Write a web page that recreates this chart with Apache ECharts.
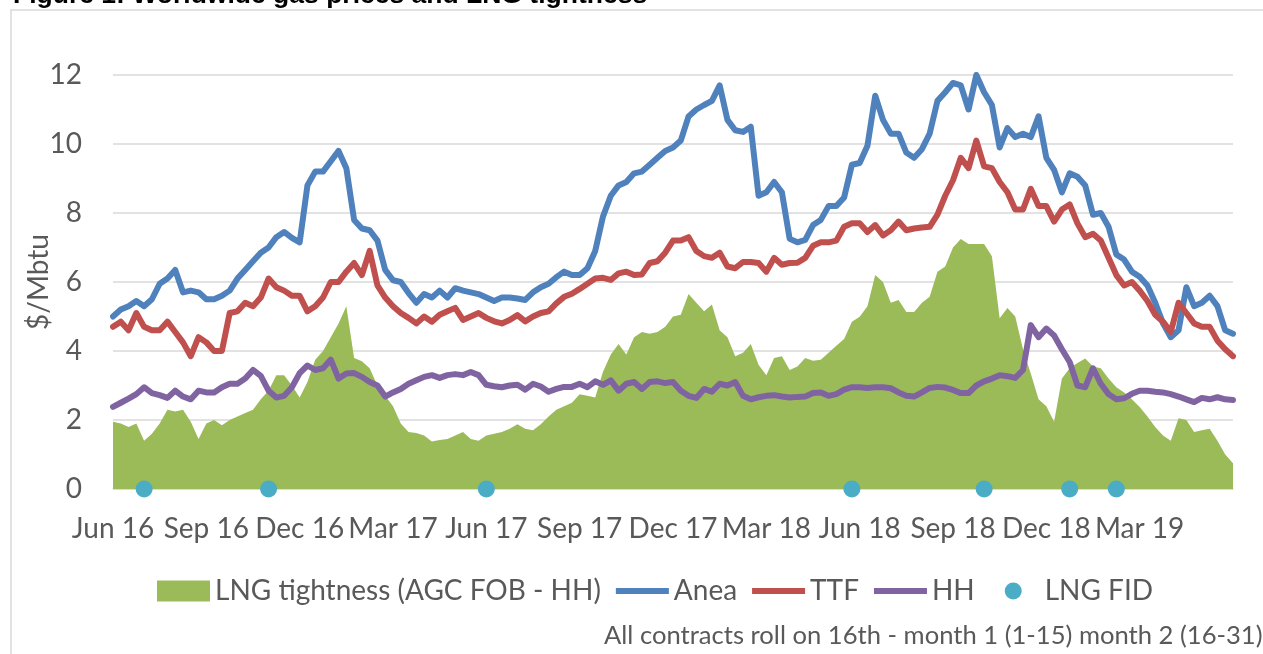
<!DOCTYPE html>
<html>
<head>
<meta charset="utf-8">
<script src="https://cdn.jsdelivr.net/npm/echarts@6/dist/echarts.min.js"></script>
<style>
    html, body { margin: 0; padding: 0; background: #fff; }
    #chart { width: 1263px; height: 654px; }
</style>
</head>
<body>
<div id="chart"></div>
<script>
// months from Jun 16 to Jun 19, sampled 4 times per month
const months = ['Jun 16', 'Jul 16', 'Aug 16', 'Sep 16', 'Oct 16', 'Nov 16', 'Dec 16', 'Jan 17', 'Feb 17', 'Mar 17',
    'Apr 17', 'May 17', 'Jun 17', 'Jul 17', 'Aug 17', 'Sep 17', 'Oct 17', 'Nov 17', 'Dec 17', 'Jan 18', 'Feb 18',
    'Mar 18', 'Apr 18', 'May 18', 'Jun 18', 'Jul 18', 'Aug 18', 'Sep 18', 'Oct 18', 'Nov 18', 'Dec 18', 'Jan 19',
    'Feb 19', 'Mar 19', 'Apr 19', 'May 19', 'Jun 19'];

const categories = [];
months.forEach((m, i) => {
    const n = i === months.length - 1 ? 1 : 4;
    for (let q = 0; q < n; q++) categories.push(m + '|' + q);
});

// LNG tightness (AGC FOB - HH), $/Mbtu
const tightness = [
    1.95, 1.9, 1.8, 1.9, 1.4, 1.6, 1.9, 2.3, 2.25, 2.3, 1.95, 1.45,
    1.9, 2.0, 1.85, 2.0, 2.1, 2.2, 2.3, 2.6, 2.85, 3.3, 3.3, 3.0,
    2.65, 3.1, 3.75, 4.0, 4.4, 4.8, 5.3, 3.8, 3.7, 3.5, 3.0, 2.7,
    2.4, 1.9, 1.65, 1.62, 1.55, 1.38, 1.42, 1.45, 1.55, 1.65, 1.45, 1.4,
    1.55, 1.6, 1.65, 1.75, 1.88, 1.75, 1.7, 1.88, 2.1, 2.3, 2.4, 2.5,
    2.75, 2.7, 2.65, 3.4, 3.9, 4.2, 3.9, 4.4, 4.55, 4.5, 4.55, 4.7,
    5.0, 5.05, 5.65, 5.4, 5.15, 5.35, 4.6, 4.4, 3.85, 3.95, 4.2, 3.6,
    3.3, 3.8, 3.85, 3.45, 3.55, 3.8, 3.72, 3.75, 3.95, 4.15, 4.35, 4.85,
    4.99, 5.3, 6.2, 6.0, 5.4, 5.48, 5.13, 5.13, 5.4, 5.57, 6.3, 6.45,
    7.0, 7.25, 7.1, 7.1, 7.1, 6.75, 4.95, 5.25, 5.0, 4.05, 3.35, 2.6,
    2.4, 1.95, 3.2, 3.5, 3.65, 3.78, 3.55, 3.5, 3.2, 2.95, 2.8, 2.6,
    2.38, 2.1, 1.8, 1.55, 1.4, 2.05, 2.0, 1.65, 1.7, 1.75, 1.4, 1.0,
    0.75
];

const anea = [
    5.0, 5.2, 5.3, 5.45, 5.3, 5.5, 5.95, 6.1, 6.35, 5.7, 5.75, 5.7,
    5.5, 5.5, 5.6, 5.75, 6.1, 6.35, 6.6, 6.85, 7.0, 7.3, 7.45, 7.28,
    7.15, 8.8, 9.2, 9.2, 9.5, 9.8, 9.3, 7.8, 7.55, 7.5, 7.2, 6.35,
    6.05, 6.0, 5.68, 5.4, 5.65, 5.55, 5.75, 5.55, 5.82, 5.75, 5.7, 5.65,
    5.55, 5.45, 5.55, 5.55, 5.52, 5.48, 5.7, 5.85, 5.95, 6.14, 6.3, 6.2,
    6.2, 6.4, 6.9, 7.9, 8.5, 8.8, 8.9, 9.15, 9.2, 9.4, 9.6, 9.8,
    9.9, 10.1, 10.8, 11.0, 11.13, 11.25, 11.7, 10.7, 10.4, 10.35, 10.5, 8.5,
    8.6, 8.9, 8.6, 7.25, 7.15, 7.22, 7.65, 7.8, 8.2, 8.2, 8.45, 9.4,
    9.45, 9.95, 11.4, 10.7, 10.3, 10.3, 9.75, 9.6, 9.85, 10.3, 11.25, 11.5,
    11.77, 11.7, 11.0, 12.0, 11.5, 11.13, 9.9, 10.46, 10.2, 10.3, 10.2, 10.8,
    9.6, 9.25, 8.6, 9.15, 9.05, 8.8, 7.95, 8.0, 7.6, 6.8, 6.65, 6.3,
    6.15, 5.9, 5.4, 4.8, 4.4, 4.6, 5.85, 5.3, 5.4, 5.6, 5.3, 4.6,
    4.5
];

const ttf = [
    4.7, 4.85, 4.6, 5.1, 4.7, 4.6, 4.6, 4.85, 4.55, 4.25, 3.85, 4.4,
    4.25, 4.0, 4.0, 5.1, 5.15, 5.4, 5.3, 5.55, 6.1, 5.85, 5.75, 5.6,
    5.6, 5.15, 5.3, 5.55, 6.0, 6.0, 6.3, 6.55, 6.2, 6.9, 5.9, 5.55,
    5.3, 5.1, 4.96, 4.8, 5.0, 4.85, 5.05, 5.15, 5.25, 4.9, 5.0, 5.1,
    4.96, 4.86, 4.8, 4.9, 5.04, 4.86, 5.0, 5.1, 5.15, 5.38, 5.57, 5.66,
    5.8, 5.95, 6.1, 6.12, 6.06, 6.25, 6.3, 6.2, 6.22, 6.55, 6.6, 6.85,
    7.2, 7.2, 7.3, 6.9, 6.75, 6.7, 6.85, 6.45, 6.4, 6.58, 6.58, 6.55,
    6.3, 6.7, 6.5, 6.55, 6.56, 6.7, 7.05, 7.15, 7.15, 7.2, 7.6, 7.7,
    7.7, 7.45, 7.65, 7.35, 7.5, 7.75, 7.5, 7.55, 7.58, 7.6, 7.95, 8.5,
    8.95, 9.6, 9.3, 10.1, 9.35, 9.3, 8.9, 8.6, 8.1, 8.1, 8.7, 8.2,
    8.2, 7.75, 8.1, 8.25, 7.7, 7.3, 7.4, 7.2, 6.7, 6.2, 5.9, 6.0,
    5.75, 5.45, 5.05, 4.85, 4.55, 5.4, 5.1, 4.8, 4.7, 4.7, 4.3, 4.05,
    3.85
];

const hh = [
    2.38, 2.5, 2.62, 2.75, 2.95, 2.78, 2.72, 2.64, 2.85, 2.68, 2.6, 2.85,
    2.8, 2.8, 2.95, 3.05, 3.05, 3.2, 3.45, 3.28, 2.85, 2.65, 2.7, 2.95,
    3.36, 3.58, 3.45, 3.5, 3.75, 3.2, 3.35, 3.36, 3.25, 3.1, 3.0, 2.68,
    2.8, 2.9, 3.05, 3.15, 3.25, 3.3, 3.22, 3.3, 3.33, 3.3, 3.39, 3.3,
    3.02, 2.98, 2.95, 3.0, 3.02, 2.88, 3.05, 2.97, 2.82, 2.9, 2.96, 2.96,
    3.05, 2.95, 3.12, 3.02, 3.15, 2.85, 3.05, 3.1, 2.9, 3.1, 3.12, 3.07,
    3.1, 2.85, 2.7, 2.64, 2.9, 2.82, 3.05, 3.0, 3.1, 2.7, 2.6, 2.66,
    2.7, 2.72, 2.68, 2.65, 2.67, 2.68, 2.78, 2.8, 2.7, 2.75, 2.88, 2.95,
    2.95, 2.93, 2.95, 2.95, 2.92, 2.8, 2.7, 2.68, 2.8, 2.93, 2.96, 2.94,
    2.87, 2.78, 2.78, 3.0, 3.12, 3.2, 3.3, 3.27, 3.22, 3.45, 4.75, 4.4,
    4.65, 4.45, 4.05, 3.68, 3.0, 2.95, 3.5, 3.05, 2.75, 2.6, 2.63, 2.76,
    2.85, 2.85, 2.82, 2.8, 2.75, 2.68, 2.6, 2.52, 2.64, 2.6, 2.66, 2.6,
    2.58
];

// LNG final investment decisions (placed on the zero line)
const fidDates = ['Jul 16|0', 'Nov 16|0', 'Jun 17|0', 'May 18|3', 'Oct 18|0', 'Dec 18|3', 'Feb 19|1'];

const yTicks = { min: 0, max: 12, interval: 2 };

const FONT = 'Lato';
const TEXT = '#595959';
const GRID = '#d9d9d9';
const LINE_W = 6;

const chartDom = document.getElementById('chart');
const myChart = echarts.init(chartDom);

// 图例里的线：不要圆点
const noDot = { opacity: 0 };

function priceLine(name, data, color, z) {
    return {
        name: name,
        type: 'line',
        data: data,
        symbol: 'none',
        itemStyle: { color: color },
        lineStyle: { color: color, width: LINE_W, cap: 'round', join: 'round' },
        emphasis: { disabled: true },
        z: z
    };
}

myChart.setOption({
    animation: false,
    textStyle: { fontFamily: FONT },
    grid: {
        left: 113,
        right: 30,
        top: 75,
        bottom: 165
    },
    legend: {
        left: 157,
        top: 577,
        padding: 0,
        itemGap: 12,
        itemWidth: 53,
        itemHeight: 21,
        textStyle: { fontFamily: FONT, fontSize: 28, color: TEXT },
        lineStyle: { width: LINE_W, cap: 'butt' },
        data: [
            { name: 'LNG tightness (AGC FOB - HH)', icon: 'rect' },
            { name: 'Anea', itemStyle: noDot },
            { name: 'TTF', itemStyle: noDot },
            { name: 'HH', itemStyle: noDot },
            { name: 'LNG FID', icon: 'path://M0,0 M53,21 M18,10.5 A8.5,8.5 0 1,0 35,10.5 A8.5,8.5 0 1,0 18,10.5 Z' }
        ]
    },
    xAxis: {
        type: 'category',
        data: categories,
        boundaryGap: false,
        axisLine: { lineStyle: { color: GRID, width: 1.5 } },
        axisTick: { show: false },
        axisLabel: {
            interval: (idx) => idx % 12 === 0 && idx < categories.length - 1,
            margin: 26,
            fontFamily: FONT,
            fontSize: 28,
            color: TEXT,
            formatter: (v) => v.split('|')[0]
        },
        splitLine: { show: false }
    },
    yAxis: {
        type: 'value',
        min: yTicks.min,
        max: yTicks.max,
        interval: yTicks.interval,
        name: '$/Mbtu',
        nameLocation: 'middle',
        nameGap: 60,
        nameMoveOverlap: false,
        nameTextStyle: { fontFamily: FONT, fontSize: 28, color: TEXT },
        axisLine: { show: false },
        axisTick: { show: false },
        axisLabel: { margin: 31, fontFamily: FONT, fontSize: 28, color: TEXT },
        splitLine: { lineStyle: { color: GRID, width: 1.5 } }
    },
    graphic: [
        {
            type: 'rect',
            shape: { x: 11, y: 10, width: 1400, height: 800 },
            style: { fill: 'none', stroke: GRID, lineWidth: 1.5 },
            silent: true
        },
        {
            type: 'text',
            x: 13,
            y: 9,
            style: {
                text: 'Figure 1: Worldwide gas prices and LNG tightness',
                font: 'bold 26.5px "Liberation Sans", Arial, sans-serif',
                fill: '#000',
                verticalAlign: 'bottom'
            }
        },
        {
            type: 'text',
            x: 604,
            y: 636,
            style: {
                text: 'All contracts roll on 16th - month 1 (1-15) month 2 (16-31)',
                font: '25.6px Lato',
                fill: TEXT,
                verticalAlign: 'middle'
            }
        }
    ],
    series: [
        {
            name: 'LNG tightness (AGC FOB - HH)',
            type: 'line',
            data: tightness,
            symbol: 'none',
            lineStyle: { width: 0 },
            itemStyle: { color: '#9bbb59' },
            areaStyle: { color: '#9bbb59', opacity: 1 },
            z: 1
        },
        priceLine('Anea', anea, '#4f81bd', 2),
        priceLine('TTF', ttf, '#c0504d', 3),
        priceLine('HH', hh, '#8064a2', 4),
        {
            name: 'LNG FID',
            type: 'scatter',
            data: fidDates.map(d => [d, 0]),
            symbolSize: 17,
            itemStyle: { color: '#4bacc6', opacity: 1 },
            clip: false,
            z: 5
        }
    ]
});

window.onresize = function () {
    myChart.resize();
}
</script>
</body>
</html>
